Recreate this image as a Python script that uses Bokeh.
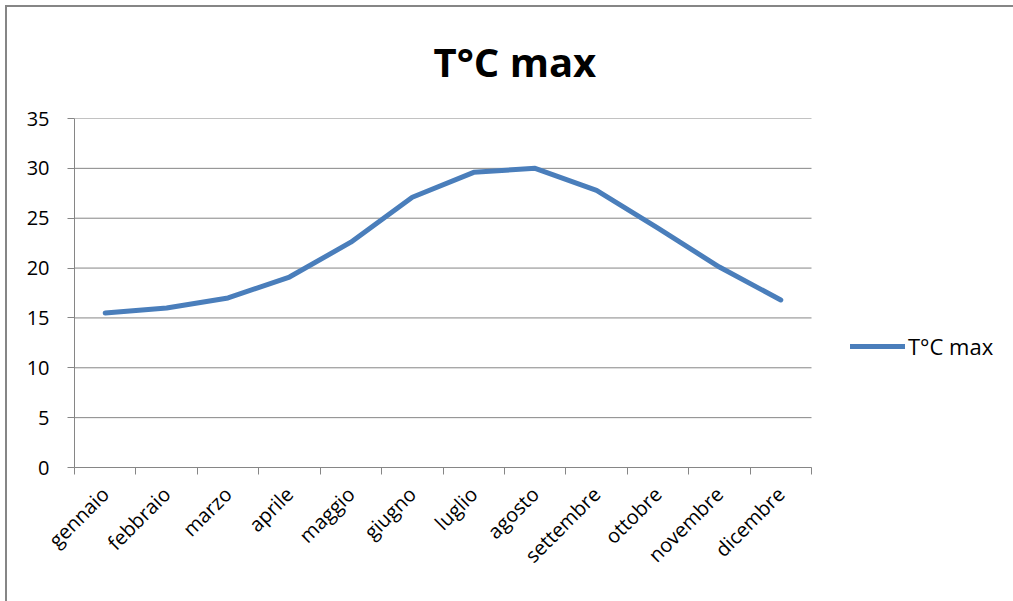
import numpy as np
from bokeh.plotting import figure
from bokeh.models import (Range1d, FixedTicker, Legend, LegendItem, ColumnDataSource,
                          InlineStyleSheet)
from bokeh.embed import file_html
from bokeh.resources import INLINE

months = ["gennaio", "febbraio", "marzo", "aprile", "maggio", "giugno",
          "luglio", "agosto", "settembre", "ottobre", "novembre", "dicembre"]
tmax = [15.5, 16.0, 17.0, 19.1, 22.6, 27.1, 29.6, 30.0, 27.8, 24.0, 20.1, 16.8]
y_ticks = [0, 5, 10, 15, 20, 25, 30, 35]
series_name = "T°C max"
title_text = "T°C max"

FONT = "Open Sans"
GRAY = "#868686"
BLUE = "#4A7EBB"

n = len(months)
centers = [i + 0.5 for i in range(n)]
bounds = list(range(n + 1))

# layout (pixels)
LEFT, TOP, BOTTOM = 74, 118, 134
PLOT_W = 737          # width of the category area
FRAME_W = 1013 - LEFT  # frame runs to the right edge so the legend is not clipped
FRAME_H = 601 - TOP - BOTTOM
x_end = n * FRAME_W / PLOT_W

border_css = InlineStyleSheet(css="""
:host::after {
  content: "";
  position: absolute;
  left: 5px; top: 5px; width: 1100px; height: 700px;
  border: 2px solid #868686;
  pointer-events: none;
  box-sizing: border-box;
}
""")

p = figure(frame_width=FRAME_W, frame_height=FRAME_H, output_backend="svg", toolbar_location=None,
           x_range=Range1d(0, x_end), y_range=Range1d(0, 35),
           min_border_left=LEFT, min_border_right=0, min_border_top=TOP, min_border_bottom=BOTTOM,
           stylesheets=[border_css])
p.outline_line_color = None
p.background_fill_color = "white"
p.border_fill_color = "white"

p.title.text = title_text
p.title.text_font = FONT
p.title.text_font_size = "40px"
p.title.text_font_style = "bold"
p.title.text_color = "black"
p.title.align = "left"
p.title.offset = 359
p.title.standoff = 60

# horizontal gridlines limited to the category area
p.segment(x0=0, x1=n, y0=y_ticks, y1=y_ticks, line_color=GRAY, line_width=1)

src = ColumnDataSource(dict(x=centers, y=tmax))
r = p.line("x", "y", source=src, line_color=BLUE, line_width=5,
           line_join="round", line_cap="round")

# x axis
xa = p.xaxis[0]
xa.bounds = (0, n)
xa.ticker = FixedTicker(ticks=centers, minor_ticks=bounds)
xa.major_label_overrides = {c: m for c, m in zip(centers, months)}
xa.major_tick_out = 0
xa.major_tick_in = 0
xa.minor_tick_out = 7
xa.minor_tick_in = 0
xa.minor_tick_line_color = GRAY
xa.axis_line_color = GRAY
xa.major_label_orientation = np.pi / 4
xa.major_label_text_font = FONT
xa.major_label_text_font_size = "20px"
xa.major_label_text_color = "black"
xa.major_label_standoff = 16

# y axis
ya = p.yaxis[0]
ya.ticker = FixedTicker(ticks=y_ticks)
ya.major_tick_out = 7
ya.major_tick_in = 0
ya.minor_tick_line_color = None
ya.major_tick_line_color = GRAY
ya.axis_line_color = GRAY
ya.major_label_text_font = FONT
ya.major_label_text_font_size = "20px"
ya.major_label_text_color = "black"
ya.major_label_standoff = 18

p.xgrid.visible = False
p.ygrid.visible = False

legend = Legend(items=[LegendItem(label=series_name, renderers=[r])],
                location=(776, 106), glyph_width=55, glyph_height=24, label_height=24,
                label_standoff=3, padding=0, margin=0, border_line_alpha=0,
                background_fill_alpha=0, label_text_font=FONT, label_text_font_size="22px",
                label_text_color="black")
p.add_layout(legend)

open("out.html", "w").write(file_html(p, INLINE))
